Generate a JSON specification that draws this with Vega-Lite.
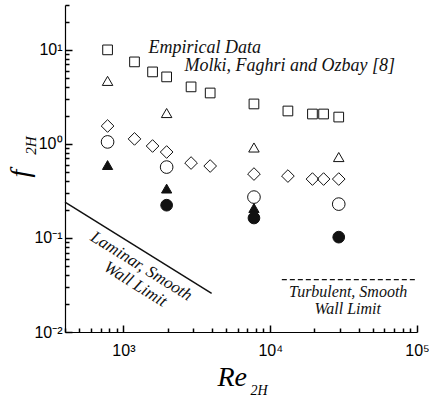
{
  "$schema": "https://vega.github.io/schema/vega-lite/v6.json",
  "width": 352,
  "height": 327,
  "autosize": {"type": "none"},
  "padding": {"left": 65, "top": 5, "right": 12, "bottom": 69},
  "background": "white",
  "config": {
    "view": {"stroke": null},
    "axis": {"grid": false, "domainColor": "black", "domainWidth": 1.2, "tickColor": "black", "labelColor": "black", "titleColor": "black", "labelFont": "Liberation Sans", "labelFontSize": 16}
  },
  "datasets": {
    "pts": [
      {"Re": 780, "f": 10.0, "series": "sq"},
      {"Re": 1190, "f": 7.45, "series": "sq"},
      {"Re": 1580, "f": 5.83, "series": "sq"},
      {"Re": 1970, "f": 5.16, "series": "sq"},
      {"Re": 2890, "f": 4.04, "series": "sq"},
      {"Re": 3900, "f": 3.48, "series": "sq"},
      {"Re": 7750, "f": 2.66, "series": "sq"},
      {"Re": 13200, "f": 2.24, "series": "sq"},
      {"Re": 19400, "f": 2.08, "series": "sq"},
      {"Re": 23100, "f": 2.08, "series": "sq"},
      {"Re": 29300, "f": 1.93, "series": "sq"},
      {"Re": 780, "f": 4.68, "series": "tri"},
      {"Re": 1970, "f": 2.13, "series": "tri"},
      {"Re": 7750, "f": 0.916, "series": "tri"},
      {"Re": 29300, "f": 0.725, "series": "tri"},
      {"Re": 780, "f": 1.55, "series": "dia"},
      {"Re": 1190, "f": 1.13, "series": "dia"},
      {"Re": 1580, "f": 0.95, "series": "dia"},
      {"Re": 1970, "f": 0.82, "series": "dia"},
      {"Re": 2890, "f": 0.626, "series": "dia"},
      {"Re": 3900, "f": 0.582, "series": "dia"},
      {"Re": 7750, "f": 0.478, "series": "dia"},
      {"Re": 13200, "f": 0.455, "series": "dia"},
      {"Re": 19400, "f": 0.423, "series": "dia"},
      {"Re": 23100, "f": 0.423, "series": "dia"},
      {"Re": 29300, "f": 0.423, "series": "dia"},
      {"Re": 780, "f": 1.05, "series": "circ"},
      {"Re": 1970, "f": 0.567, "series": "circ"},
      {"Re": 7750, "f": 0.272, "series": "circ"},
      {"Re": 29300, "f": 0.229, "series": "circ"},
      {"Re": 780, "f": 0.596, "series": "tri_f"},
      {"Re": 1970, "f": 0.335, "series": "tri_f"},
      {"Re": 7750, "f": 0.208, "series": "tri_f"},
      {"Re": 1970, "f": 0.223, "series": "circ_f"},
      {"Re": 7750, "f": 0.163, "series": "circ_f"},
      {"Re": 29300, "f": 0.102, "series": "circ_f"}
    ],
    "lam": [
      {"Re": 400, "f": 0.24},
      {"Re": 3990, "f": 0.0258}
    ],
    "turb": [
      {"Re": 12000, "f": 0.0361},
      {"Re": 100000, "f": 0.0361}
    ],
    "notes": [
      {"label": "Empirical Data", "Re": 1483, "f": 10.5, "kind": "top"},
      {"label": "Molki, Faghri and Ozbay [8]", "Re": 2612, "f": 6.76, "kind": "top"},
      {"label": "Laminar,  Smooth", "Re": 1327, "f": 0.0501, "kind": "lam"},
      {"label": "Wall Limit", "Re": 1208, "f": 0.0322, "kind": "lam"},
      {"label": "Turbulent, Smooth", "Re": 34000, "f": 0.0268, "kind": "turb"},
      {"label": "Wall Limit", "Re": 33740, "f": 0.0177, "kind": "turb"}
    ]
  },
  "layer": [
    {
      "data": {"name": "pts"},
      "mark": {"type": "point", "filled": true, "stroke": "#111", "strokeWidth": 1, "opacity": 1},
      "encoding": {
        "x": {
          "field": "Re", "type": "quantitative",
          "scale": {"type": "log", "domain": [400, 100000], "nice": false},
          "axis": {
            "orient": "bottom",
            "values": [400, 500, 600, 700, 800, 900, 1000, 2000, 3000, 4000, 5000, 6000, 7000, 8000, 9000, 10000, 20000, 30000, 40000, 50000, 60000, 70000, 80000, 90000, 100000],
            "labelExpr": "datum.value == 1000 ? '10³' : datum.value == 10000 ? '10⁴' : datum.value == 100000 ? '10⁵' : ''",
            "labelOverlap": false,
            "labelFlush": false,
            "labelBound": false,
            "tickSize": {"condition": {"test": "datum.value == 1000 || datum.value == 10000 || datum.value == 100000", "value": -7}, "value": -4},
            "tickWidth": 1.5,
            "labelPadding": 17,
            "title": "Re",
            "titleFont": "Liberation Serif",
            "titleFontStyle": "italic",
            "titleFontWeight": "normal",
            "titleFontSize": 28,
            "titleAlign": "left",
            "titleBaseline": "alphabetic",
            "titleAnchor": null,
            "titleX": 152,
            "titleY": 53
          }
        },
        "y": {
          "field": "f", "type": "quantitative",
          "scale": {"type": "log", "domain": [0.01, 30], "nice": false},
          "axis": {
            "orient": "left",
            "values": [0.01, 0.02, 0.03, 0.04, 0.05, 0.06, 0.07, 0.08, 0.09, 0.1, 0.2, 0.3, 0.4, 0.5, 0.6, 0.7, 0.8, 0.9, 1, 2, 3, 4, 5, 6, 7, 8, 9, 10, 20, 30],
            "labelExpr": "datum.value == 10 ? '10¹' : datum.value == 1 ? '10⁰' : datum.value == 0.1 ? '10⁻¹' : datum.value == 0.01 ? '10⁻²' : ''",
            "labelOverlap": false,
            "labelFlush": false,
            "labelBound": false,
            "tickSize": {"condition": {"test": "datum.value == 0.01 || datum.value == 0.1 || datum.value == 1 || datum.value == 10", "value": -7}, "value": -4},
            "tickWidth": 1.5,
            "labelPadding": 10,
            "title": "f",
            "titleFont": "Liberation Serif",
            "titleFontStyle": "italic",
            "titleFontWeight": "normal",
            "titleFontSize": 28,
            "titleAngle": -90,
            "titleAlign": "center",
            "titleBaseline": "middle",
            "titleAnchor": null,
            "titleX": -45,
            "titleY": 168
          }
        },
        "shape": {
          "field": "series", "type": "nominal",
          "scale": {"domain": ["sq", "tri", "dia", "circ", "tri_f", "circ_f"], "range": ["square", "triangle-up", "diamond", "circle", "triangle-up", "circle"]},
          "legend": null
        },
        "fill": {
          "field": "series", "type": "nominal",
          "scale": {"domain": ["sq", "tri", "dia", "circ", "tri_f", "circ_f"], "range": ["transparent", "transparent", "transparent", "transparent", "#111", "#111"]},
          "legend": null
        },
        "size": {
          "field": "series", "type": "nominal",
          "scale": {"type": "ordinal", "domain": ["sq", "tri", "dia", "circ", "tri_f", "circ_f"], "range": [94, 110, 160, 160, 105, 137]},
          "legend": null
        }
      }
    },
    {
      "data": {"name": "lam"},
      "mark": {"type": "line", "color": "#111", "strokeWidth": 1.5},
      "encoding": {
        "x": {"field": "Re", "type": "quantitative", "axis": {
          "orient": "bottom", "title": "2H", "labels": false, "ticks": false, "domain": false, "grid": false,
          "titleFont": "Liberation Serif", "titleFontStyle": "italic", "titleFontWeight": "normal", "titleFontSize": 14,
          "titleAlign": "left", "titleBaseline": "alphabetic", "titleAnchor": null, "titleX": 185, "titleY": 62}},
        "y": {"field": "f", "type": "quantitative", "axis": {
          "orient": "left", "title": "2H", "labels": false, "ticks": false, "domain": false, "grid": false,
          "titleFont": "Liberation Serif", "titleFontStyle": "italic", "titleFontWeight": "normal", "titleFontSize": 15,
          "titleAngle": -90, "titleAlign": "center", "titleBaseline": "middle", "titleAnchor": null, "titleX": -35, "titleY": 140}}
      }
    },
    {
      "data": {"name": "turb"},
      "mark": {"type": "line", "color": "#111", "strokeWidth": 1.2, "strokeDash": [5, 3]},
      "encoding": {
        "x": {"field": "Re", "type": "quantitative", "axis": null},
        "y": {"field": "f", "type": "quantitative", "axis": null}
      }
    },
    {
      "data": {"name": "notes"},
      "transform": [{"filter": "datum.kind == 'top'"}],
      "mark": {"type": "text", "font": "Liberation Serif", "fontStyle": "italic", "fontSize": 18, "align": "left", "baseline": "middle", "color": "#111"},
      "encoding": {
        "x": {"field": "Re", "type": "quantitative", "axis": null},
        "y": {"field": "f", "type": "quantitative", "axis": null},
        "text": {"field": "label"}
      }
    },
    {
      "data": {"name": "notes"},
      "transform": [{"filter": "datum.kind == 'lam'"}],
      "mark": {"type": "text", "font": "Liberation Serif", "fontStyle": "italic", "fontSize": 17, "align": "center", "baseline": "middle", "angle": 32, "color": "#111"},
      "encoding": {
        "x": {"field": "Re", "type": "quantitative", "axis": null},
        "y": {"field": "f", "type": "quantitative", "axis": null},
        "text": {"field": "label"}
      }
    },
    {
      "data": {"name": "notes"},
      "transform": [{"filter": "datum.kind == 'turb'"}],
      "mark": {"type": "text", "font": "Liberation Serif", "fontStyle": "italic", "fontSize": 16, "align": "center", "baseline": "middle", "color": "#111"},
      "encoding": {
        "x": {"field": "Re", "type": "quantitative", "axis": null},
        "y": {"field": "f", "type": "quantitative", "axis": null},
        "text": {"field": "label"}
      }
    }
  ],
  "resolve": {"axis": {"x": "independent", "y": "independent"}}
}
